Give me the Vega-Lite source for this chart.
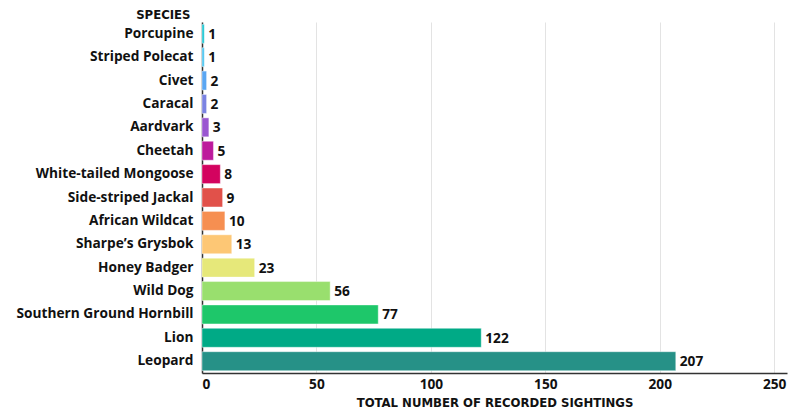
{
  "$schema": "https://vega.github.io/schema/vega-lite/v6.json",
  "autosize": {"type": "none"},
  "padding": {"left": 202, "top": 22, "right": 13, "bottom": 44},
  "width": 585,
  "height": 351,
  "background": "white",
  "data": {
    "values": [
      {"species": "Porcupine", "count": 1, "color": "#1cc6d3"},
      {"species": "Striped Polecat", "count": 1, "color": "#4cc4ef"},
      {"species": "Civet", "count": 2, "color": "#5aa6f2"},
      {"species": "Caracal", "count": 2, "color": "#7a83e2"},
      {"species": "Aardvark", "count": 3, "color": "#9a57d0"},
      {"species": "Cheetah", "count": 5, "color": "#bd1a9c"},
      {"species": "White-tailed Mongoose", "count": 8, "color": "#d3035f"},
      {"species": "Side-striped Jackal", "count": 9, "color": "#e1514a"},
      {"species": "African Wildcat", "count": 10, "color": "#f68f51"},
      {"species": "Sharpe’s Grysbok", "count": 13, "color": "#fdc775"},
      {"species": "Honey Badger", "count": 23, "color": "#e6e87a"},
      {"species": "Wild Dog", "count": 56, "color": "#99df6e"},
      {"species": "Southern Ground Hornbill", "count": 77, "color": "#1ec76a"},
      {"species": "Lion", "count": 122, "color": "#00aa86"},
      {"species": "Leopard", "count": 207, "color": "#269187"}
    ]
  },
  "encoding": {
    "y": {
      "field": "species",
      "type": "nominal",
      "sort": null,
      "scale": {"paddingInner": 0.19, "paddingOuter": 0.1},
      "axis": {
        "title": "SPECIES",
        "titleAngle": 0,
        "titleAlign": "right",
        "titleBaseline": "bottom",
        "titleX": -12,
        "titleY": -1,
        "titleFont": "DejaVu Sans Condensed, DejaVu Sans, sans-serif",
        "titleFontSize": 13,
        "titleFontWeight": "bold",
        "titleColor": "#111",
        "labelFont": "Open Sans",
        "labelFontSize": 13.7,
        "labelFontWeight": "bold",
        "labelColor": "#111",
        "labelPadding": 9,
        "ticks": false,
        "domainColor": "#333",
        "domainWidth": 1.5,
        "grid": false
      }
    },
    "x": {
      "field": "count",
      "type": "quantitative",
      "scale": {"domain": [0, 255.6], "nice": false},
      "axis": {
        "title": "TOTAL NUMBER OF RECORDED SIGHTINGS",
        "values": [0, 50, 100, 150, 200, 250],
        "titleFont": "DejaVu Sans Condensed, DejaVu Sans, sans-serif",
        "titleFontSize": 13,
        "titleFontWeight": "bold",
        "titleColor": "#111",
        "titlePadding": 6,
        "labelFont": "Open Sans",
        "labelFontSize": 13.7,
        "labelFontWeight": "bold",
        "labelColor": "#111",
        "labelPadding": 4,
        "ticks": false,
        "domainColor": "#333",
        "domainWidth": 1.5,
        "grid": true,
        "gridColor": "#e3e3e3",
        "gridWidth": 1
      }
    }
  },
  "layer": [
    {
      "mark": {"type": "bar", "stroke": "white", "strokeOpacity": 0.4, "strokeWidth": 1},
      "encoding": {
        "color": {"field": "color", "type": "nominal", "scale": null, "legend": null}
      }
    },
    {
      "mark": {"type": "text", "align": "left", "baseline": "middle", "dx": 4, "dy": 1, "font": "Open Sans", "fontSize": 13.7, "fontWeight": "bold", "color": "#111"},
      "encoding": {
        "text": {"field": "count", "type": "quantitative"}
      }
    }
  ],
  "config": {"view": {"stroke": null}}
}
